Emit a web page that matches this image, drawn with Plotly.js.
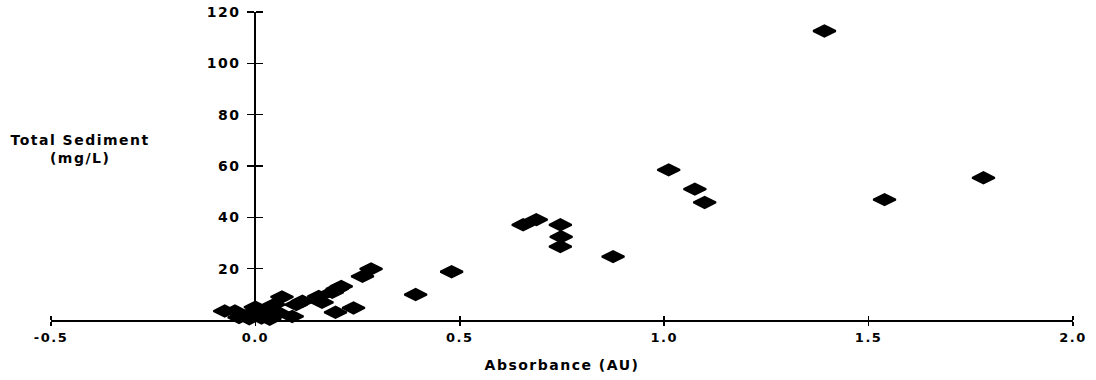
<!DOCTYPE html>
<html>
<head>
<meta charset="utf-8">
<script src="https://cdn.plot.ly/plotly-3.0.1.min.js"></script>
<style>
  html, body { margin: 0; padding: 0; background: #ffffff; }
  #chart { width: 1096px; height: 380px; }
  .main-svg text { letter-spacing: 1.5px; }
</style>
</head>
<body>
<div id="chart"></div>
<script>
// Absorbance (AU)
var absorbance = [
  -0.075, -0.05, -0.04, -0.015, -0.01, 0.0, 0.015, 0.03, 0.035, 0.045,
  0.058, 0.065, 0.09, 0.10, 0.115, 0.155, 0.163, 0.188, 0.196, 0.20,
  0.21, 0.24, 0.262, 0.283, 0.392, 0.48, 0.655, 0.687, 0.746, 0.748,
  0.746, 0.875, 1.011, 1.075, 1.099, 1.392, 1.539, 1.781
];
// Total Sediment (mg/L)
var sediment = [
  3.5, 3.5, 1.0, 0.5, 2.7, 5.0, 0.8, 3.4, 0.3, 6.0,
  2.7, 9.0, 1.4, 6.0, 7.3, 9.2, 6.9, 10.8, 3.0, 12.1,
  13.1, 4.7, 17.0, 19.9, 9.9, 18.8, 37.1, 39.1, 37.1, 32.4,
  28.6, 24.7, 58.5, 51.0, 45.8, 112.6, 46.9, 55.4
];
var xTickVals = [-0.5, 0, 0.5, 1.0, 1.5, 2.0];
var xTickText = ['-0.5', '0.0', '0.5', '1.0', '1.5', '2.0'];
var yTickVals = [20, 40, 60, 80, 100, 120];
var yTickText = ['20', '40', '60', '80', '100', '120'];

var FONT = 'DejaVu Sans, Liberation Sans, Arial, sans-serif';

var traces = [
  {
    type: 'scatter',
    mode: 'markers',
    x: absorbance,
    y: sediment,
    cliponaxis: false,
    marker: { symbol: 'diamond-wide', size: 16, color: '#000000',
              line: { color: '#000000', width: 2 } },
    showlegend: false,
    hoverinfo: 'x+y'
  },
  {
    type: 'scatter', mode: 'markers', x: [], y: [],
    xaxis: 'x2', yaxis: 'y2', showlegend: false, hoverinfo: 'skip'
  }
];

var axisCommon = {
  showgrid: false, zeroline: false,
  tickcolor: '#000000', tickwidth: 1.5
};

var layout = {
  width: 1096, height: 380,
  margin: { l: 51, r: 22.5, t: 12.3, b: 60, pad: 0 },
  paper_bgcolor: '#ffffff', plot_bgcolor: '#ffffff',
  font: { family: FONT, color: '#000000' },
  xaxis: Object.assign({}, axisCommon, {
    range: [-0.5, 2.0],
    tickmode: 'array', tickvals: xTickVals, ticktext: xTickText,
    ticks: 'outside', ticklen: 4,
    showline: true, linecolor: '#000000', linewidth: 2,
    anchor: 'y',
    tickfont: { family: FONT, size: 13, color: '#000000', weight: 'bold' },
    title: { text: 'Absorbance (AU)', standoff: 17,
             font: { family: FONT, size: 14, color: '#000000', weight: 'bold' } }
  }),
  xaxis2: Object.assign({}, axisCommon, {
    range: [-0.5, 2.0], overlaying: 'x', side: 'top',
    anchor: 'free', position: 0,
    tickmode: 'array', tickvals: xTickVals,
    ticks: 'outside', ticklen: 4, showticklabels: false, showline: false
  }),
  yaxis: Object.assign({}, axisCommon, {
    range: [0, 120],
    tickmode: 'array', tickvals: yTickVals, ticktext: yTickText,
    ticks: 'outside', ticklen: 7, ticklabelstandoff: 4,
    showline: true, linecolor: '#000000', linewidth: 2,
    anchor: 'free', position: 0.2,
    tickfont: { family: FONT, size: 14, color: '#000000', weight: 'bold' }
  }),
  yaxis2: Object.assign({}, axisCommon, {
    range: [0, 120], overlaying: 'y', side: 'right',
    anchor: 'free', position: 0.2,
    tickmode: 'array', tickvals: yTickVals,
    ticks: 'outside', ticklen: 7, showticklabels: false, showline: false
  }),
  annotations: [
    {
      text: 'Total Sediment<br>(mg/L)',
      xref: 'paper', yref: 'paper', x: 0.029, y: 0.556,
      xanchor: 'center', yanchor: 'middle', showarrow: false, align: 'center',
      font: { family: FONT, size: 14, color: '#000000', weight: 'bold' }
    }
  ],
  showlegend: false
};

Plotly.newPlot('chart', traces, layout, { displayModeBar: false, staticPlot: true });
</script>
</body>
</html>
